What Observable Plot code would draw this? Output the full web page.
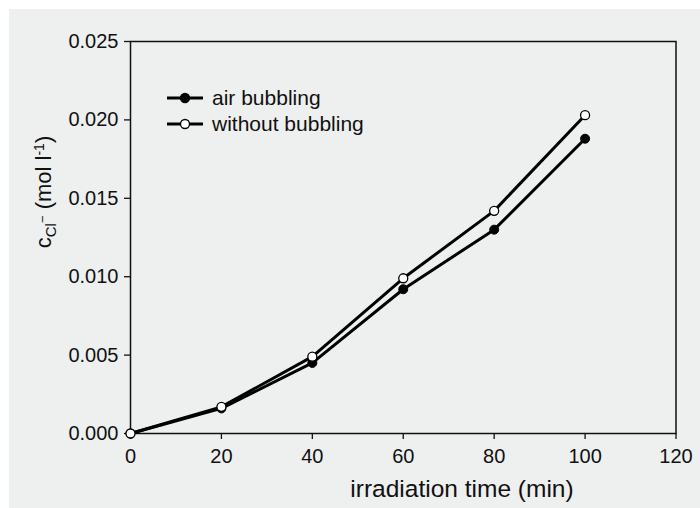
<!DOCTYPE html>
<html><head><meta charset="utf-8">
<script src="https://cdn.jsdelivr.net/npm/d3@7"></script>
<script src="https://cdn.jsdelivr.net/npm/@observablehq/plot@0.6"></script>
<style>
body{margin:0;background:#fff;}
#chart{position:absolute;left:9px;top:9px;width:691px;height:499px;background:#eeefef;}
</style></head><body><div id="chart"></div>
<script>
const times = [0, 20, 40, 60, 80, 100];
const airBubbling = [0, 0.0016, 0.0045, 0.0092, 0.0130, 0.0188];
const withoutBubbling = [0, 0.0017, 0.0049, 0.0099, 0.0142, 0.0203];
const xTicks = [0, 20, 40, 60, 80, 100, 120];
const yTicks = [0, 0.005, 0.010, 0.015, 0.020, 0.025];
const seriesNames = ["air bubbling", "without bubbling"];
const xLabel = "irradiation time (min)";

const airData = times.map((t, i) => ({t, v: airBubbling[i], s: seriesNames[0]}));
const withoutData = times.map((t, i) => ({t, v: withoutBubbling[i], s: seriesNames[1]}));

const font = "'Liberation Sans', Arial, Helvetica, sans-serif";
const W = 691, H = 499;
const chart = Plot.plot({
  width: W, height: H,
  marginLeft: 121, marginTop: 32, marginRight: 24.5, marginBottom: 75,
  style: {fontFamily: font, fontSize: "20px", color: "#111", background: "transparent", overflow: "visible"},
  x: {domain: [0, 120]},
  y: {domain: [0, 0.025]},
  marks: [
    Plot.frame({stroke: "#111", strokeWidth: 1.5}),
    Plot.axisX({ticks: xTicks, tickSize: 6, tickPadding: 9, fontSize: 20, label: null, strokeWidth: 1.3}),
    Plot.axisY({ticks: yTicks, tickFormat: d3.format(".3f"), tickSize: 6, tickPadding: 6, fontSize: 20, label: null, strokeWidth: 1.3}),
    Plot.line(airData, {x: "t", y: "v", stroke: "#000", strokeWidth: 3}),
    Plot.line(withoutData, {x: "t", y: "v", stroke: "#000", strokeWidth: 3}),
    Plot.dot(airData, {x: "t", y: "v", r: 4.5, fill: "#000", stroke: "#000", strokeWidth: 1}),
    Plot.dot(withoutData, {x: "t", y: "v", r: 4.5, fill: "#fff", stroke: "#000", strokeWidth: 1.3})
  ]
});
document.getElementById("chart").appendChild(chart);

const svg = d3.select(chart);
// x label
svg.append("text").attr("x", 453).attr("y", 488).attr("text-anchor", "middle")
  .attr("font-family", font).attr("font-size", 24.5).attr("fill", "#111").text(xLabel);
// y label
const yl = svg.append("text").attr("transform", "translate(34,183) rotate(-90)")
  .attr("text-anchor", "middle").attr("dy", "0.35em")
  .attr("font-family", font).attr("font-size", 22).attr("fill", "#111");
yl.append("tspan").text("c");
yl.append("tspan").attr("font-size", 15).attr("dy", 5).text("Cl");
yl.append("tspan").attr("font-size", 13).attr("dy", -9).text("−");
yl.append("tspan").attr("dy", 4).text(" (mol l");
yl.append("tspan").attr("font-size", 14).attr("dy", -7).text("-1");
yl.append("tspan").attr("dy", 7).text(")");
// legend
const leg = [
  {name: seriesNames[0], fill: "#000", y: 89},
  {name: seriesNames[1], fill: "#fff", y: 115}
];
leg.forEach(d => {
  svg.append("line").attr("x1", 158).attr("x2", 194).attr("y1", d.y).attr("y2", d.y)
    .attr("stroke", "#000").attr("stroke-width", 3);
  svg.append("circle").attr("cx", 176).attr("cy", d.y).attr("r", 4.5)
    .attr("fill", d.fill).attr("stroke", "#000").attr("stroke-width", 1.3);
  svg.append("text").attr("x", 203).attr("y", d.y).attr("dy", "0.35em")
    .attr("text-anchor", "start")
    .attr("font-family", font).attr("font-size", 21).attr("fill", "#111").text(d.name);
});
</script></body></html>
